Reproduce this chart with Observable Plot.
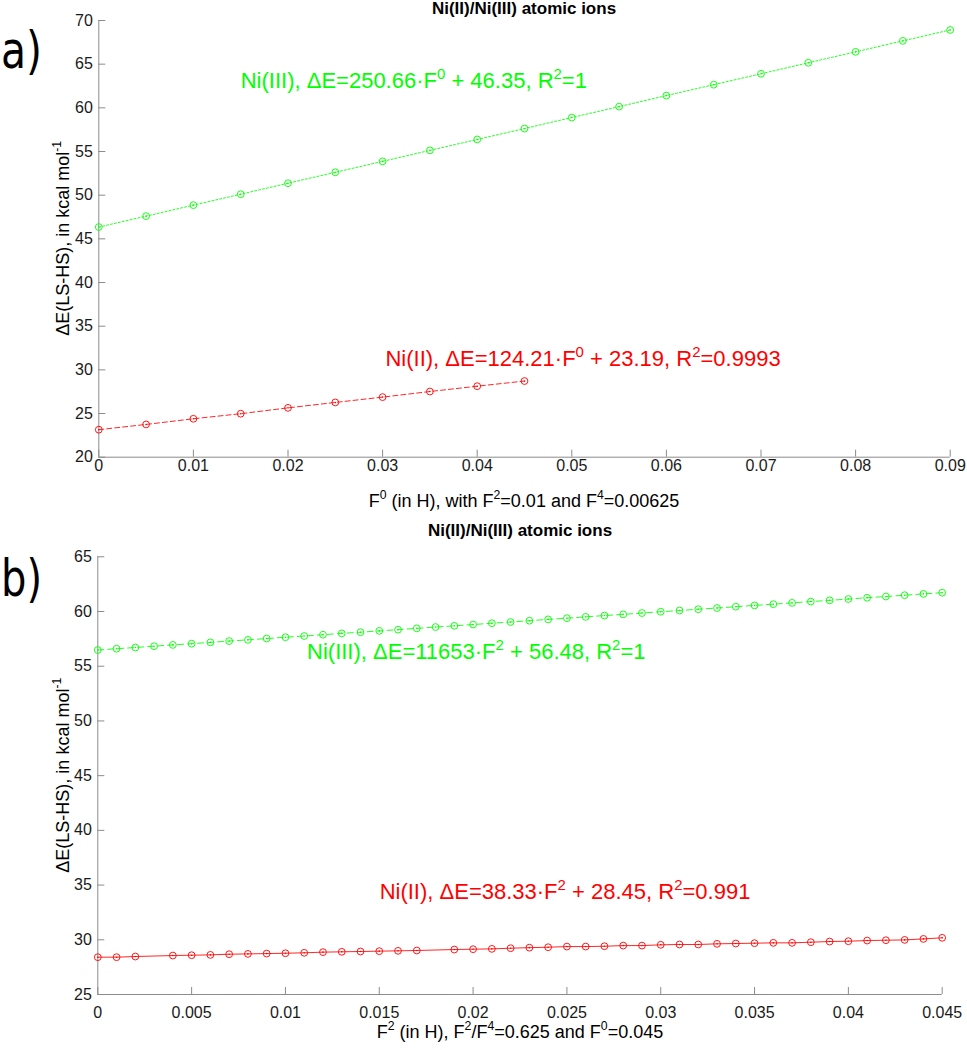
<!DOCTYPE html>
<html><head><meta charset="utf-8">
<script src="https://cdn.jsdelivr.net/npm/d3@7"></script>
<script src="https://cdn.jsdelivr.net/npm/@observablehq/plot@0.6"></script>
<style>
body{margin:0;background:#fff;}
#wrap{position:relative;width:967px;height:1050px;overflow:hidden;background:#fff;}
.panel{position:absolute;left:0;}
.panel svg{background:transparent !important;overflow:visible;}
</style></head><body><div id="wrap"><div id="pa" class="panel" style="top:0"></div><div id="pb" class="panel" style="top:512px"></div></div>
<script>
// ---------------- data ----------------
const chartTitle = "Ni(II)/Ni(III) atomic ions";
const yAxisLabel = "ΔE(LS-HS), in kcal mol^-1";

// panel a
const aXLabel = "F^0 (in H), with F^2=0.01 and F^4=0.00625";
const aXTicks = [0, 0.01, 0.02, 0.03, 0.04, 0.05, 0.06, 0.07, 0.08, 0.09];
const aYTicks = [20, 25, 30, 35, 40, 45, 50, 55, 60, 65, 70];
const aNi3F0 = [0, 0.005, 0.01, 0.015, 0.02, 0.025, 0.03, 0.035, 0.04, 0.045, 0.05, 0.055, 0.06, 0.065, 0.07, 0.075, 0.08, 0.085, 0.09];
const aNi3dE = [46.35, 47.60, 48.86, 50.11, 51.37, 52.62, 53.87, 55.13, 56.38, 57.63, 58.89, 60.14, 61.40, 62.65, 63.90, 65.16, 66.41, 67.67, 68.92];
const aNi2F0 = [0, 0.005, 0.01, 0.015, 0.02, 0.025, 0.03, 0.035, 0.04, 0.045];
const aNi2dE = [23.15, 23.75, 24.40, 24.98, 25.65, 26.27, 26.88, 27.52, 28.13, 28.72];
const aNoteX = [0.015, 0.0303];
const aNoteY = [62.3, 30.4];
const aNoteText = ["Ni(III), ΔE=250.66·F^0 + 46.35, R^2=1", "Ni(II), ΔE=124.21·F^0 + 23.19, R^2=0.9993"];
const aNoteSeries = ["Ni(III)", "Ni(II)"];

// panel b
const bXLabel = "F^2 (in H), F^2/F^4=0.625 and F^0=0.045";
const bXTicks = [0, 0.005, 0.01, 0.015, 0.02, 0.025, 0.03, 0.035, 0.04, 0.045];
const bYTicks = [25, 30, 35, 40, 45, 50, 55, 60, 65];
const bNi3F2 = [0, 0.001, 0.002, 0.003, 0.004, 0.005, 0.006, 0.007, 0.008, 0.009, 0.01, 0.011, 0.012, 0.013, 0.014, 0.015, 0.016, 0.017, 0.018, 0.019, 0.02, 0.021, 0.022, 0.023, 0.024, 0.025, 0.026, 0.027, 0.028, 0.029, 0.03, 0.031, 0.032, 0.033, 0.034, 0.035, 0.036, 0.037, 0.038, 0.039, 0.04, 0.041, 0.042, 0.043, 0.044, 0.045];
const bNi3dE = [56.48, 56.60, 56.71, 56.83, 56.95, 57.06, 57.18, 57.30, 57.41, 57.53, 57.65, 57.76, 57.88, 58.00, 58.11, 58.23, 58.34, 58.46, 58.58, 58.69, 58.81, 58.93, 59.04, 59.16, 59.28, 59.39, 59.51, 59.63, 59.74, 59.86, 59.98, 60.09, 60.21, 60.32, 60.44, 60.56, 60.67, 60.79, 60.91, 61.02, 61.14, 61.26, 61.37, 61.49, 61.61, 61.72];
const bNi2F2 = [0, 0.001, 0.002, 0.004, 0.005, 0.006, 0.007, 0.008, 0.009, 0.01, 0.011, 0.012, 0.013, 0.014, 0.015, 0.016, 0.017, 0.019, 0.02, 0.021, 0.022, 0.023, 0.024, 0.025, 0.026, 0.027, 0.028, 0.029, 0.03, 0.031, 0.032, 0.033, 0.034, 0.035, 0.036, 0.037, 0.038, 0.039, 0.04, 0.041, 0.042, 0.043, 0.044, 0.045];
const bNi2dE = [28.41, 28.41, 28.47, 28.56, 28.59, 28.62, 28.68, 28.71, 28.74, 28.77, 28.81, 28.87, 28.90, 28.93, 28.96, 28.99, 29.02, 29.11, 29.14, 29.17, 29.23, 29.28, 29.32, 29.38, 29.38, 29.41, 29.47, 29.47, 29.54, 29.57, 29.57, 29.63, 29.66, 29.69, 29.72, 29.72, 29.78, 29.84, 29.87, 29.93, 29.96, 29.99, 30.08, 30.18];
const bNoteX = [0.01115, 0.01502];
const bNoteY = [55.66, 33.74];
const bNoteText = ["Ni(III), ΔE=11653·F^2 + 56.48, R^2=1", "Ni(II), ΔE=38.33·F^2 + 28.45, R^2=0.991"];
const bNoteSeries = ["Ni(III)", "Ni(II)"];

const seriesColor = {"Ni(III)": "#00ff00", "Ni(II)": "#ff0000"};

// ---------------- helpers ----------------
const FONT = '"Liberation Sans", Arial, Helvetica, sans-serif';
const AXIS_GRAY = "#8c8c8c";
const SVGNS = "http://www.w3.org/2000/svg";
const fmt = d => String(+(+d).toFixed(4));

function rich(el, str, fs) {
  while (el.firstChild) el.removeChild(el.firstChild);
  const parts = str.split(/\^(-?\d)/);
  let shift = 0;
  parts.forEach((p, i) => {
    if (!p) return;
    const t = document.createElementNS(SVGNS, "tspan");
    const sup = i % 2 === 1;
    const target = sup ? -0.42 * fs : 0;
    if (target !== shift) t.setAttribute("dy", target - shift);
    shift = target;
    if (sup) t.setAttribute("font-size", 0.68 * fs);
    t.textContent = p;
    el.appendChild(t);
  });
}
function addText(svg, str, {x, y, fs, anchor = "middle", weight = "normal", family = FONT, rotate = 0, fill = "#000", textLength = null}) {
  const t = document.createElementNS(SVGNS, "text");
  t.setAttribute("transform", `translate(${x},${y})` + (rotate ? ` rotate(${rotate})` : ""));
  t.setAttribute("text-anchor", anchor);
  t.setAttribute("font-size", fs);
  t.setAttribute("font-weight", weight);
  t.setAttribute("font-family", family);
  t.setAttribute("fill", fill);
  if (textLength) { t.setAttribute("textLength", textLength); t.setAttribute("lengthAdjust", "spacingAndGlyphs"); }
  rich(t, str, fs);
  svg.appendChild(t);
  return t;
}

function seriesMarks(xs, ys, name, dash) {
  const rows = xs.map((x, i) => ({x, y: ys[i]}));
  const c = seriesColor[name];
  return [
    Plot.line(rows, {x: "x", y: "y", stroke: c, strokeWidth: 1, strokeOpacity: 0.85, strokeDasharray: dash}),
    Plot.dot(rows, {x: "x", y: "y", r: 3.4, stroke: c, strokeWidth: 1, fill: "none", strokeOpacity: 0.9}),
    Plot.dot(rows, {x: "x", y: "y", r: 0.8, fill: c, stroke: "none"})
  ];
}

function panel(cfg) {
  const notes = cfg.noteX.map((x, i) => ({x, y: cfg.noteY[i], text: cfg.noteText[i], s: cfg.noteSeries[i]}));
  const plot = Plot.plot({
    width: 967, height: cfg.height,
    marginTop: cfg.mt, marginBottom: cfg.mb, marginLeft: cfg.ml, marginRight: cfg.mr,
    style: {fontFamily: FONT, fontSize: "16px", color: "#1a1a1a", background: "transparent", overflow: "visible"},
    x: {domain: cfg.xDomain},
    y: {domain: cfg.yDomain},
    marks: [
      Plot.ruleY([cfg.yDomain[0]], {stroke: AXIS_GRAY}),
      Plot.ruleX([cfg.xDomain[0]], {stroke: AXIS_GRAY}),
      Plot.axisX(cfg.xTicks, {tickSize: -7, tickPadding: cfg.xPad, stroke: AXIS_GRAY, label: null, tickFormat: fmt}),
      Plot.axisY(cfg.yTicks, {tickSize: -7, tickPadding: 13, stroke: AXIS_GRAY, label: null, tickFormat: fmt}),
      ...cfg.series.flatMap(s => seriesMarks(s.x, s.y, s.name, s.dash)),
      Plot.text(notes, {x: "x", y: "y", text: "text", fill: d => seriesColor[d.s], fontSize: 22, textAnchor: "start", lineAnchor: "bottom"})
    ]
  });
  plot.querySelectorAll("text").forEach(t => {
    if (t.textContent.includes("^")) rich(t, t.textContent, 22);
  });
  return plot;
}

// ---------------- panel a ----------------
const svgA = panel({
  height: 512, mt: 20, mb: 55.3, ml: 98.3, mr: 17.3, xPad: 9.5,
  xDomain: [0, 0.09], yDomain: [20, 70], xTicks: aXTicks, yTicks: aYTicks,
  series: [
    {x: aNi3F0, y: aNi3dE, name: "Ni(III)", dash: "2,2"},
    {x: aNi2F0, y: aNi2dE, name: "Ni(II)", dash: "5,3"}
  ],
  noteX: aNoteX, noteY: aNoteY, noteText: aNoteText, noteSeries: aNoteSeries
});
addText(svgA, chartTitle, {x: 524, y: 14, fs: 17, weight: "bold"});
addText(svgA, aXLabel, {x: 524, y: 507, fs: 18});
addText(svgA, yAxisLabel, {x: 69, y: 238.3, fs: 18, rotate: -90});
addText(svgA, "a)", {x: 1, y: 68, fs: 52, anchor: "start", family: '"DejaVu Sans", sans-serif', textLength: 41});
document.getElementById("pa").appendChild(svgA);

// ---------------- panel b ----------------
const svgB = panel({
  height: 538, mt: 44.3, mb: 56, ml: 97.3, mr: 25.3, xPad: 19,
  xDomain: [0, 0.045], yDomain: [25, 65], xTicks: bXTicks, yTicks: bYTicks,
  series: [
    {x: bNi3F2, y: bNi3dE, name: "Ni(III)", dash: "6,4"},
    {x: bNi2F2, y: bNi2dE, name: "Ni(II)", dash: null}
  ],
  noteX: bNoteX, noteY: bNoteY, noteText: bNoteText, noteSeries: bNoteSeries
});
addText(svgB, chartTitle, {x: 520, y: 24, fs: 17, weight: "bold"});
addText(svgB, bXLabel, {x: 520, y: 526, fs: 18});
addText(svgB, yAxisLabel, {x: 69, y: 263.2, fs: 18, rotate: -90});
addText(svgB, "b)", {x: 1, y: 84, fs: 52, anchor: "start", family: '"DejaVu Sans", sans-serif', textLength: 41});
document.getElementById("pb").appendChild(svgB);
</script>
</body></html>
